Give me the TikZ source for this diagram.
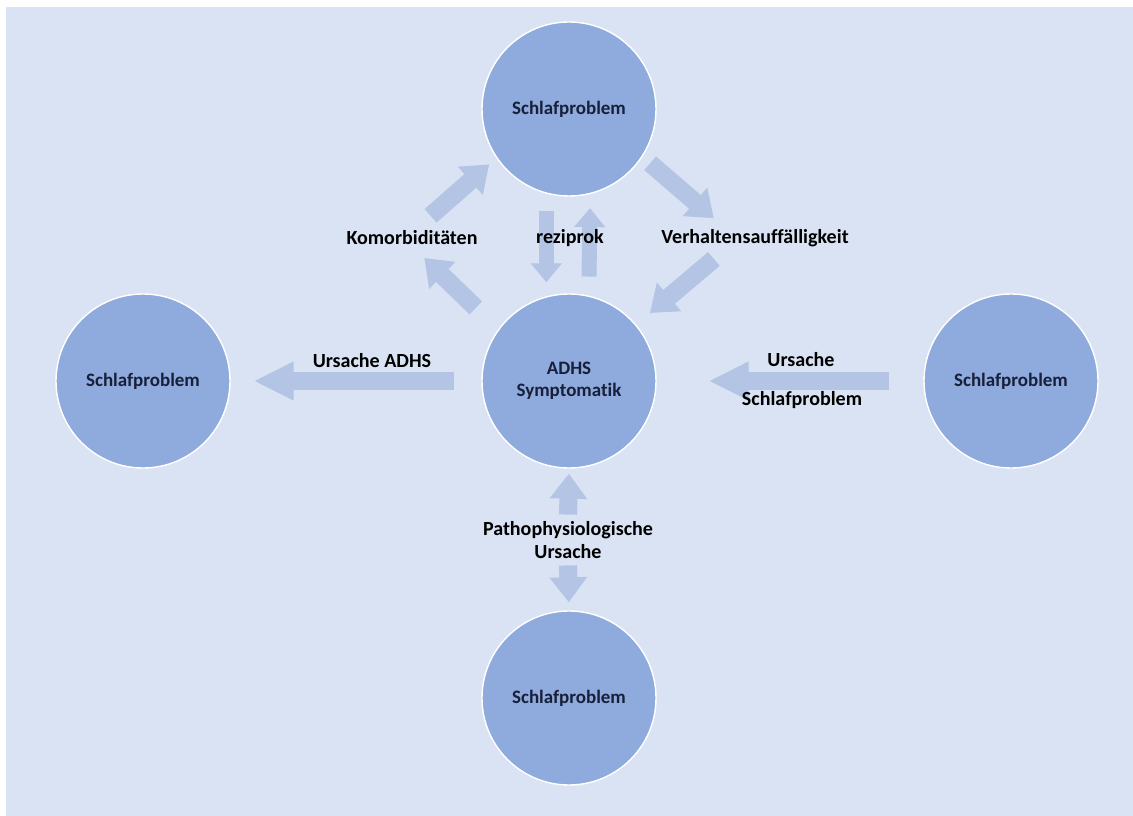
\documentclass[tikz,border=0pt]{standalone}
\usepackage{fontspec}
\setmainfont{Carlito}[Ligatures=NoCommon]
\usepackage{tikz}
\usepackage{xcolor}
\usetikzlibrary{arrows.meta, positioning, backgrounds, calc}
\definecolor{clrBg}{HTML}{DAE3F3}
\definecolor{clrCircle}{HTML}{8FAADC}
\definecolor{clrArrow}{HTML}{B4C4E4}
\definecolor{clrText}{HTML}{17203A}

\begin{document}
\begin{tikzpicture}[
    circ/.style={circle, draw=white, line width=0.8pt, fill=clrCircle, minimum size=3.48cm, inner sep=0pt, align=center, font=\fontsize{10.8}{12.8}\selectfont\bfseries, text=clrText},
    lbl/.style={align=center, inner sep=2pt, font=\fontsize{11.4}{13.6}\selectfont\bfseries, text=black},
    bigarrow/.style={-{Triangle[width=0.72cm, length=0.8cm]}, line width=0.36cm, draw=clrArrow},
    diagarrow/.style={-{Triangle[width=0.72cm, length=0.5cm]}, line width=0.36cm, draw=clrArrow},
    smallarrow/.style={-{Triangle[width=0.6cm, length=0.38cm]}, line width=0.3cm, draw=clrArrow},
]

\useasboundingbox (0,0) rectangle (22.66,-16.32);

% === Circles ===
\node[circ] (top) at (11.38, -2.18) {Schlafproblem};
\node[circ] (adhs) at (11.38, -7.62) {ADHS\\Symptomatik};
\node[circ] (left) at (2.86, -7.62) {Schlafproblem};
\node[circ] (right) at (20.22, -7.62) {Schlafproblem};
\node[circ] (bottom) at (11.38, -13.96) {Schlafproblem};

% === Labels ===
\node[lbl] (komorb) at (8.24, -4.76) {Komorbiditäten};
\node[lbl] (rezi) at (11.40, -4.76) {reziprok};
\node[lbl] (verh) at (15.10, -4.76) {Verhaltensauffälligkeit};
\node[lbl] (ursadhs) at (7.44, -7.22) {Ursache ADHS};
\node[lbl] (urs) at (16.02, -7.20) {Ursache};
\node[lbl] (schl) at (16.04, -8.00) {Schlafproblem};
\node[lbl] (patho) at (11.36, -10.80) {Pathophysiologische\\Ursache};

% === Background ===
\begin{scope}[on background layer]
\fill[white] (0,0) rectangle (22.66,-16.32);
\fill[clrBg] (0.12,-0.14) rectangle (22.66,-16.32);
\end{scope}

% === Arrows ===
\begin{scope}[on background layer]
% horizontal
\draw[bigarrow, shorten <=0.54cm, shorten >=0.46cm] (adhs.west) -- (left.east);
\draw[bigarrow, shorten <=0.68cm, shorten >=1.04cm] (right.west) -- (adhs.east);
% cycle round the top
\draw[diagarrow, shorten <=0.34cm, shorten >=0.19cm] (komorb.62) -- (top.214);
\draw[diagarrow, shorten <=0.20cm, shorten >=0.22cm] (top.327) -- (verh.159);
\draw[diagarrow, shorten <=0.26cm, shorten >=0.36cm] (verh.202) -- (adhs.40);
\draw[diagarrow, shorten <=0.62cm, shorten >=0.26cm] (adhs.144) -- (komorb.285);
% reziprok
\draw[smallarrow, shorten <=0.34cm, shorten >=0.28cm] (top.255) -- (adhs.105);
\draw[smallarrow, shorten <=0.38cm, shorten >=0.28cm] (adhs.77) -- (top.284);
% pathophysiologisch
\draw[diagarrow, shorten <=0.05cm, shorten >=0.10cm] (patho.north) -- (adhs.south);
\draw[diagarrow, shorten <=0.05cm, shorten >=0.16cm] (patho.south) -- (bottom.north);
\end{scope}

\end{tikzpicture}
\end{document}
